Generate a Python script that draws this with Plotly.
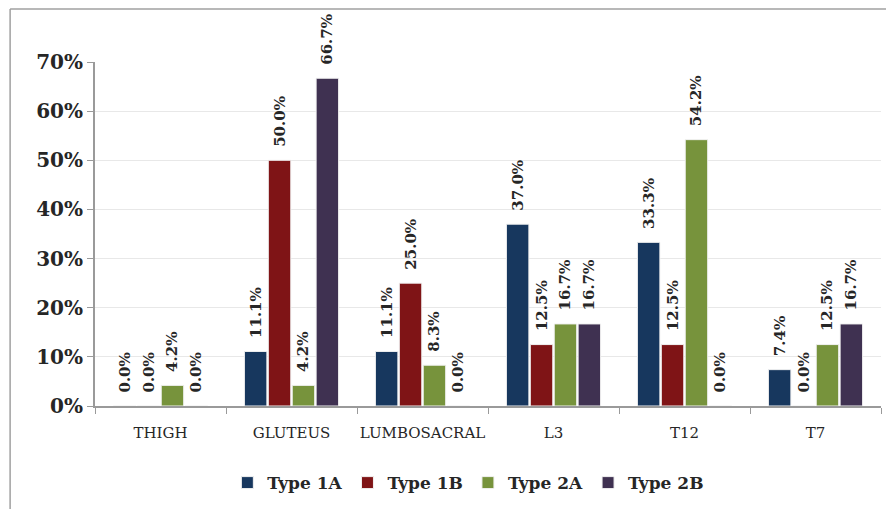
import plotly.graph_objects as go

categories = ["THIGH", "GLUTEUS", "LUMBOSACRAL", "L3", "T12", "T7"]
series_names = ["Type 1A", "Type 1B", "Type 2A", "Type 2B"]
type_1a = [0.0, 11.1, 11.1, 37.0, 33.3, 7.4]
type_1b = [0.0, 50.0, 25.0, 12.5, 12.5, 0.0]
type_2a = [4.2, 4.2, 8.3, 16.7, 54.2, 12.5]
type_2b = [0.0, 66.7, 0.0, 16.7, 0.0, 16.7]
colors = ["#17375E", "#7F1416", "#77933C", "#3F3151"]
tick_vals = [0, 10, 20, 30, 40, 50, 60, 70]
tick_text = ["0%", "10%", "20%", "30%", "40%", "50%", "60%", "70%"]

SERIF = "DejaVu Serif"
fig = go.Figure()
for name, vals, col in zip(series_names, [type_1a, type_1b, type_2a, type_2b], colors):
    fig.add_trace(go.Bar(
        name=name, x=categories, y=vals,
        marker=dict(color=col, line=dict(color="#f2f2f2", width=1)),
        text=["\u00a0\u00a0" + f"{v:.1f}%" for v in vals],
        textposition="outside", textangle=-90,
        textfont=dict(family=SERIF, size=15, color="#262626", weight="bold"),
        constraintext="none", cliponaxis=False,
    ))

fig.update_layout(
    width=886, height=501,
    margin=dict(l=87, r=13, t=54, b=103, autoexpand=False),
    paper_bgcolor="white", plot_bgcolor="white",
    barmode="group", bargap=0.27, bargroupgap=0.06,
    showlegend=True,
    legend=dict(orientation="h", x=0.475, xanchor="center", y=-0.224, yanchor="middle",
                font=dict(family=SERIF, size=17, color="#262626", weight="bold"),
                traceorder="normal", itemwidth=30),
    xaxis=dict(showline=True, linecolor="#9a9a9a", linewidth=2, ticks="outside",
               tickson="boundaries", ticklen=6, tickcolor="#9a9a9a", automargin=False,
               ticklabelstandoff=12, tickangle=0,
               tickfont=dict(family=SERIF, size=15, color="#262626")),
    yaxis=dict(range=[0, 70], tickmode="array", tickvals=tick_vals, ticktext=tick_text,
               showline=True, linecolor="#9a9a9a", linewidth=2, ticks="outside",
               ticklen=6, tickcolor="#9a9a9a", showgrid=True, gridcolor="#e8e8e8",
               zeroline=False, automargin=False,
               tickfont=dict(family=SERIF, size=20, color="#262626", weight="bold")),
    shapes=[
        dict(type="line", xref="paper", yref="paper", x0=-0.108, x1=1.02, y0=1.154, y1=1.154,
             line=dict(color="#a0a0a0", width=1.5)),
        dict(type="line", xref="paper", yref="paper", x0=-0.108, x1=-0.108, y0=1.154, y1=-0.31,
             line=dict(color="#a0a0a0", width=1.5)),
    ],
)
fig.write_html("out.html")
